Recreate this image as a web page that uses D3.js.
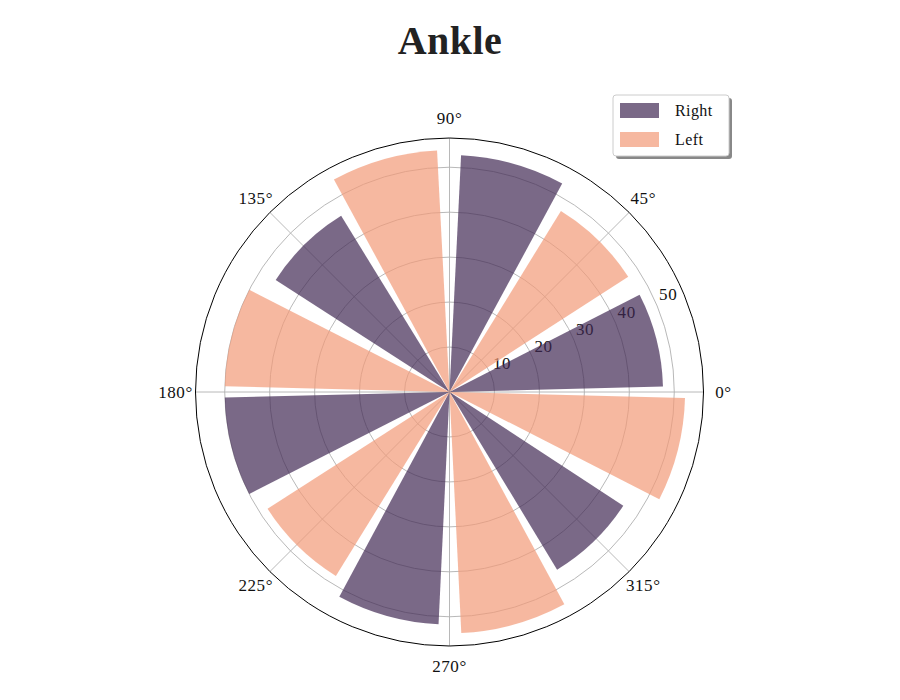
<!DOCTYPE html>
<html><head><meta charset="utf-8">
<script src="https://cdn.jsdelivr.net/npm/d3@7"></script>
<style>body{margin:0;background:#fff}svg{display:block}</style>
</head><body>
<svg id="chart" width="900" height="700"></svg>
<script>
const title = "Ankle";
const seriesNames = ["Right", "Left"];
const rightAngles = [14.3, 74.4, 134.4, 194.2, 254.5, 314.0];
const rightValues = [47.5, 52.7, 46.0, 50.0, 51.7, 46.2];
const leftAngles = [45.6, 105.75, 165.75, 225.5, 285.6, 345.75];
const leftValues = [47.3, 53.8, 50.0, 48.1, 53.7, 52.4];
const barWidthDeg = 25.6;
const radialTicks = [10, 20, 30, 40, 50];
const angleTicks = [0, 45, 90, 135, 180, 225, 270, 315];
const rMaxValue = 56.5;
const colors = ["#412a54", "#f29a77"];

const svg = d3.select("#chart");
const cx = 449.5, cy = 392, R = 254;
const font = "'Liberation Serif','DejaVu Serif',serif";
const r = d3.scaleLinear().domain([0, rMaxValue]).range([0, R]);
const toRad = d => d * Math.PI / 180;

const g = svg.append("g").attr("transform", `translate(${cx},${cy})`);

// grid circles
g.selectAll("circle.grid").data(radialTicks).join("circle")
  .attr("r", d => r(d)).attr("fill", "none")
  .attr("stroke", "#b0b0b0").attr("stroke-width", 0.9);
// angular grid lines
g.selectAll("line.grid").data(angleTicks).join("line")
  .attr("x1", 0).attr("y1", 0)
  .attr("x2", d => R * Math.cos(toRad(d)))
  .attr("y2", d => -R * Math.sin(toRad(d)))
  .attr("stroke", "#b0b0b0").attr("stroke-width", 0.9);

// radial tick labels
const rlabAngle = toRad(22.5);
g.selectAll("text.rl").data(radialTicks).join("text")
  .attr("x", d => r(d) * Math.cos(rlabAngle) + 11)
  .attr("y", d => -r(d) * Math.sin(rlabAngle) - 11)
  .attr("text-anchor", "middle").attr("dominant-baseline", "central")
  .attr("font-family", font).attr("font-size", 17).attr("letter-spacing", 0.6).attr("fill", "#111")
  .text(d => d);

// bars
const arc = d3.arc().innerRadius(0);
const series = [
  {angles: rightAngles, values: rightValues, color: colors[0]},
  {angles: leftAngles, values: leftValues, color: colors[1]}
];
series.forEach(s => {
  g.append("g").selectAll("path").data(s.values.map((v, i) => ({v, a: s.angles[i]})))
    .join("path")
    .attr("d", d => arc({
      outerRadius: r(d.v),
      startAngle: Math.PI / 2 - toRad(d.a + barWidthDeg / 2),
      endAngle: Math.PI / 2 - toRad(d.a - barWidthDeg / 2)
    }))
    .attr("fill", s.color).attr("fill-opacity", 0.7);
});

// outer circle
g.append("circle").attr("r", R).attr("fill", "none").attr("stroke", "#000").attr("stroke-width", 1);

// angle labels
g.selectAll("text.al").data(angleTicks).join("text")
  .attr("x", d => 274 * Math.cos(toRad(d)))
  .attr("y", d => -274 * Math.sin(toRad(d)))
  .attr("text-anchor", "middle").attr("dominant-baseline", "central")
  .attr("font-family", font).attr("font-size", 17).attr("letter-spacing", 0.6).attr("fill", "#111")
  .text(d => d + "°");

// title
svg.append("text").attr("x", 450).attr("y", 54).attr("text-anchor", "middle")
  .attr("font-family", font).attr("font-size", 40).attr("font-weight", "bold")
  .attr("letter-spacing", 0.5).attr("fill", "#222").text(title);

// legend
const lg = svg.append("g").attr("transform", "translate(613,95)");
lg.append("rect").attr("x", 3).attr("y", 3).attr("width", 116).attr("height", 61)
  .attr("rx", 3).attr("fill", "#888");
lg.append("rect").attr("x", 0).attr("y", 0).attr("width", 116).attr("height", 61)
  .attr("rx", 3).attr("fill", "#fff").attr("stroke", "#ccc").attr("stroke-width", 1);
seriesNames.forEach((name, i) => {
  lg.append("rect").attr("x", 7).attr("y", 8 + i * 29).attr("width", 39).attr("height", 15)
    .attr("fill", colors[i]).attr("fill-opacity", 0.7);
  lg.append("text").attr("x", 62).attr("y", 21 + i * 29)
    .attr("font-family", font).attr("font-size", 16).attr("letter-spacing", 0.4).attr("fill", "#111").text(name);
});
</script>
</body></html>
